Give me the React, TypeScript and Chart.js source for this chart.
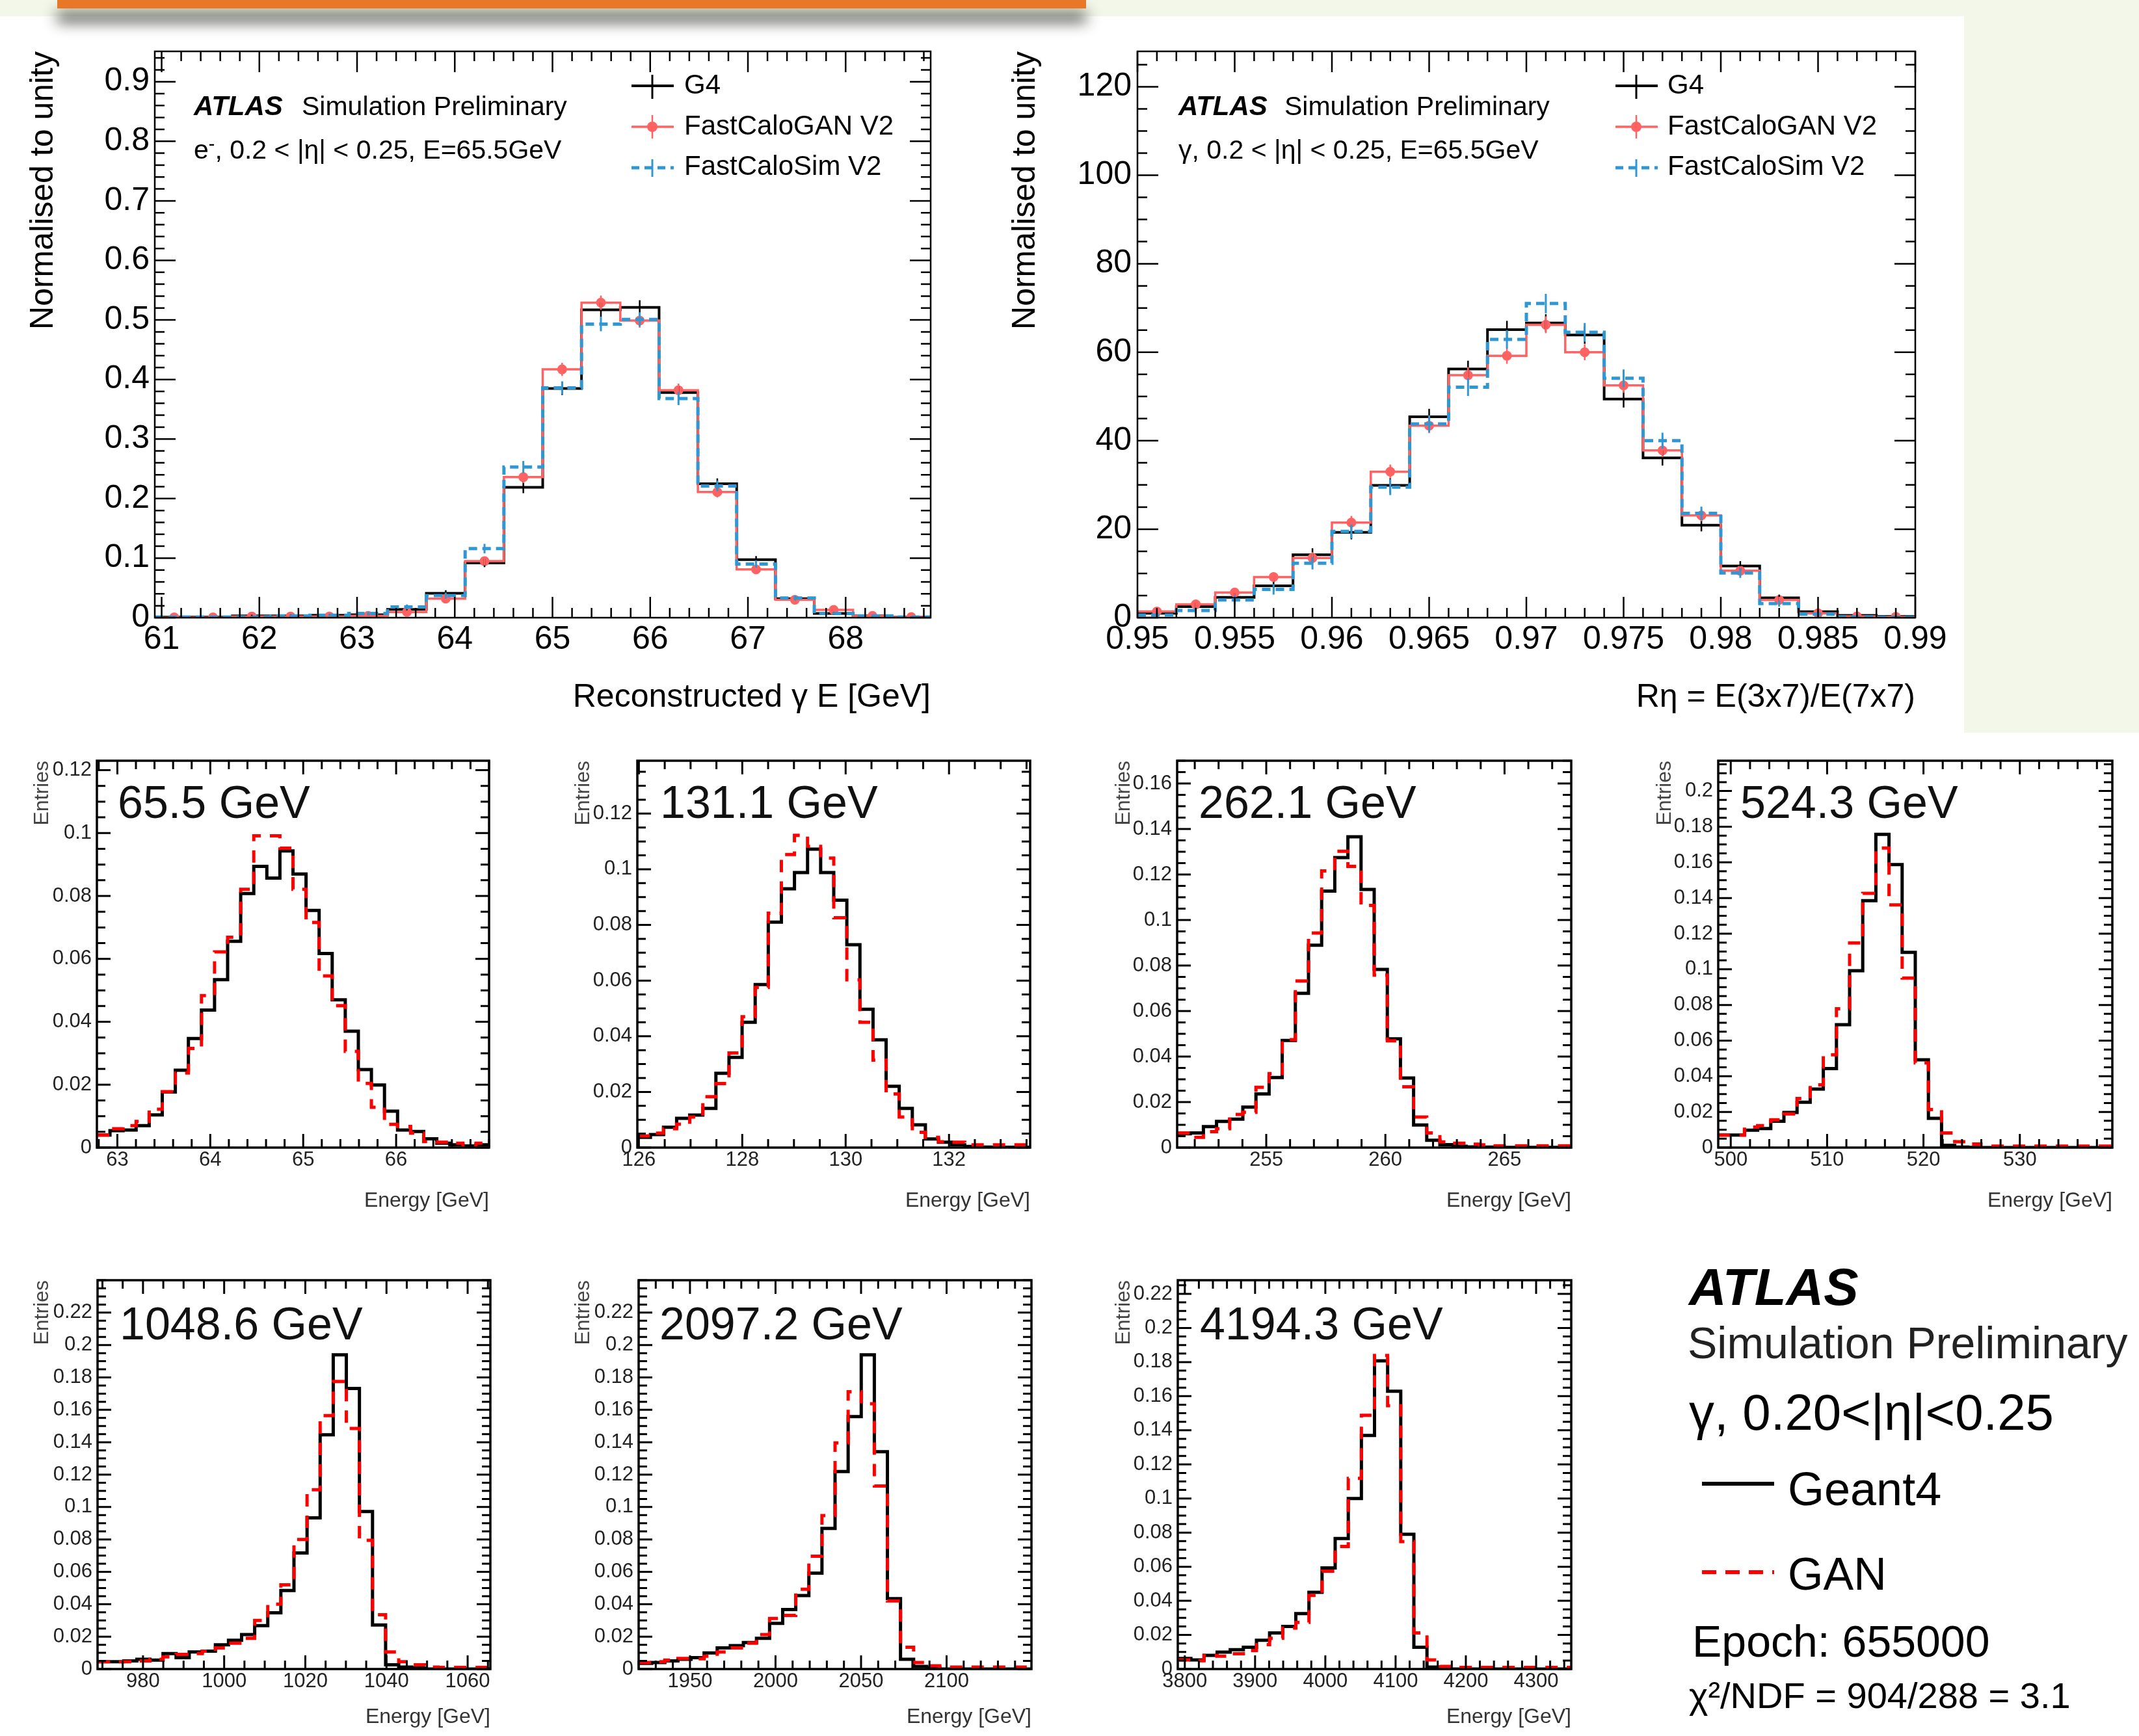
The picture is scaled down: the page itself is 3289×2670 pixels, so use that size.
import React, { useEffect, useRef } from 'react';
import { Chart, registerables } from 'chart.js';

Chart.register(...registerables);

const FONT = '"Liberation Sans", Arial, Helvetica, sans-serif';
const GREEN = '#f3f7e9';
const C_BLACK = '#000000';
const C_GAN_TOP = '#ff6262';
const C_FCS = '#2f98d4';
const C_RED = '#ff0000';

// ---------------- Top-left: reconstructed photon energy (20 bins) ----------------
const eTicksX = [61, 62, 63, 64, 65, 66, 67, 68];
const eTicksY = [0, 0.1, 0.2, 0.3, 0.4, 0.5, 0.6, 0.7, 0.8, 0.9];
const eG4 = [0.001, 0.001, 0.003, 0.003, 0.004, 0.005, 0.014, 0.041, 0.092, 0.219, 0.385, 0.517, 0.521, 0.378, 0.225, 0.0975, 0.032, 0.007, 0.003, 0.001];
const eGAN = [0.0005, 0.0005, 0.002, 0.002, 0.002, 0.003, 0.0095, 0.032, 0.095, 0.236, 0.417, 0.529, 0.499, 0.382, 0.211, 0.081, 0.030, 0.013, 0.003, 0.001];
const eFCS = [0.001, 0.001, 0.001, 0.003, 0.004, 0.007, 0.018, 0.037, 0.116, 0.253, 0.386, 0.493, 0.501, 0.368, 0.221, 0.090, 0.033, 0.007, 0.003, 0.001];
const eG4Err = [0.001, 0.001, 0.002, 0.002, 0.002, 0.002, 0.003, 0.005, 0.007, 0.010, 0.011, 0.012, 0.012, 0.011, 0.009, 0.006, 0.004, 0.002, 0.001, 0.001];
const eGANErr = [0.001, 0.001, 0.001, 0.001, 0.001, 0.002, 0.003, 0.005, 0.007, 0.010, 0.011, 0.012, 0.012, 0.011, 0.009, 0.006, 0.004, 0.003, 0.001, 0.001];
const eFCSErr = [0.001, 0.001, 0.001, 0.002, 0.002, 0.003, 0.004, 0.005, 0.008, 0.010, 0.011, 0.012, 0.012, 0.011, 0.009, 0.006, 0.004, 0.002, 0.001, 0.001];

// ---------------- Top-right: R_eta (20 bins) ----------------
const rTicksX = [0.95, 0.955, 0.96, 0.965, 0.97, 0.975, 0.98, 0.985, 0.99];
const rTicksY = [0, 20, 40, 60, 80, 100, 120];
const rG4 = [1.0, 2.5, 4.6, 7.2, 14.2, 19.3, 29.9, 45.4, 56.2, 65.1, 66.6, 63.9, 49.4, 36.1, 20.9, 11.7, 4.5, 1.35, 0.5, 0.3];
const rGAN = [1.4, 3.0, 5.7, 9.2, 13.5, 21.5, 33.0, 43.4, 54.8, 59.2, 66.2, 60.0, 52.5, 37.8, 23.1, 10.6, 4.0, 1.0, 0.3, 0.2];
const rFCS = [0.6, 1.6, 4.0, 6.4, 12.3, 19.5, 29.5, 43.8, 52.1, 62.9, 71.0, 64.5, 54.1, 40.0, 23.6, 10.1, 3.2, 0.8, 0.2, 0.1];
const rG4Err = [0.5, 0.8, 1.0, 1.2, 1.5, 1.6, 1.7, 1.8, 1.9, 2.0, 2.0, 2.0, 1.9, 1.7, 1.4, 1.1, 0.7, 0.4, 0.2, 0.2];
const rGANErr = [0.5, 0.7, 0.9, 1.1, 1.3, 1.5, 1.6, 1.7, 1.8, 1.8, 1.9, 1.8, 1.7, 1.5, 1.3, 1.0, 0.7, 0.4, 0.2, 0.2];
const rFCSErr = [0.4, 0.7, 1.0, 1.2, 1.4, 1.6, 1.8, 1.9, 2.0, 2.1, 2.2, 2.1, 2.0, 1.8, 1.5, 1.1, 0.7, 0.4, 0.2, 0.2];

// ---------------- Small panels: energy response, Geant4 vs GAN (30 bins each) ----------------
const p1Ticks = [63, 64, 65, 66];
const p1G4 = [0.0040, 0.0054, 0.0056, 0.0070, 0.0104, 0.0177, 0.0246, 0.0347, 0.0437, 0.0534, 0.0656, 0.0808, 0.0894, 0.0857, 0.0943, 0.0870, 0.0754, 0.0617, 0.0470, 0.0370, 0.0248, 0.0199, 0.0116, 0.0056, 0.0051, 0.0028, 0.0014, 0.0009, 0.0005, 0.0009];
const p1GAN = [0.0040, 0.0060, 0.0070, 0.0083, 0.0122, 0.0178, 0.0237, 0.0315, 0.0483, 0.0622, 0.0669, 0.0821, 0.0991, 0.0991, 0.0952, 0.0821, 0.0716, 0.0546, 0.0451, 0.0306, 0.0204, 0.0128, 0.0074, 0.0067, 0.0046, 0.0019, 0.0017, 0.0014, 0.0002, 0.0014];

const p2Ticks = [126, 128, 130, 132];
const p2G4 = [0.0037, 0.0047, 0.0073, 0.0105, 0.0117, 0.0141, 0.0267, 0.0324, 0.0450, 0.0586, 0.0810, 0.0930, 0.0988, 0.1072, 0.0988, 0.0889, 0.0729, 0.0497, 0.0387, 0.0220, 0.0141, 0.0082, 0.0031, 0.0019, 0.0010, 0.0004, 0.0002, 0.0001, 0.0001, 0.0001];
const p2GAN = [0.0042, 0.0052, 0.0068, 0.0084, 0.0110, 0.0183, 0.0230, 0.0340, 0.0470, 0.0575, 0.0842, 0.1053, 0.1122, 0.1082, 0.1040, 0.0826, 0.0603, 0.0450, 0.0314, 0.0193, 0.0110, 0.0055, 0.0037, 0.0021, 0.0019, 0.0010, 0.0010, 0.0010, 0.0010, 0.0010];

const p3Ticks = [255, 260, 265];
const p3G4 = [0.0061, 0.0064, 0.0092, 0.0115, 0.0125, 0.0178, 0.0236, 0.0308, 0.0471, 0.0678, 0.0889, 0.1127, 0.1274, 0.1366, 0.1134, 0.0783, 0.0478, 0.0306, 0.0099, 0.0032, 0.0013, 0.0006, 0.0003, 0.0002, 0.0001, 0.0001, 0.0001, 0.0001, 0.0001, 0.0001];
const p3GAN = [0.0064, 0.0045, 0.0070, 0.0083, 0.0146, 0.0155, 0.0265, 0.0325, 0.0474, 0.0732, 0.0943, 0.1216, 0.1302, 0.1236, 0.1064, 0.0758, 0.0469, 0.0267, 0.0134, 0.0064, 0.0025, 0.0019, 0.0015, 0.0012, 0.0008, 0.0008, 0.0008, 0.0008, 0.0008, 0.0008];

const p4Ticks = [500, 510, 520, 530];
const p4G4 = [0.0070, 0.0070, 0.0098, 0.0107, 0.0148, 0.0197, 0.0254, 0.0328, 0.0443, 0.0689, 0.0992, 0.1385, 0.1757, 0.1587, 0.1095, 0.0492, 0.0164, 0.0013, 0.0003, 0.0001, 0, 0, 0, 0, 0, 0, 0, 0, 0, 0];
const p4GAN = [0.0070, 0.0070, 0.0115, 0.0123, 0.0156, 0.0189, 0.0275, 0.0352, 0.0521, 0.0779, 0.1148, 0.1426, 0.1680, 0.1361, 0.0951, 0.0475, 0.0213, 0.0082, 0.0033, 0.0020, 0.0008, 0.0008, 0.0008, 0.0008, 0.0008, 0.0008, 0.0008, 0.0008, 0.0008, 0.0008];

const p5Ticks = [980, 1000, 1020, 1040, 1060];
const p5G4 = [0.0045, 0.0045, 0.0050, 0.0060, 0.0055, 0.0095, 0.0070, 0.0105, 0.0110, 0.0150, 0.0178, 0.0213, 0.0268, 0.0347, 0.0485, 0.0716, 0.0933, 0.1446, 0.1939, 0.1732, 0.0972, 0.0272, 0.0026, 0.0012, 0.0006, 0, 0, 0, 0, 0];
const p5GAN = [0.0045, 0.0045, 0.0045, 0.0050, 0.0060, 0.0075, 0.0090, 0.0095, 0.0110, 0.0130, 0.0160, 0.0190, 0.0300, 0.0400, 0.0520, 0.0800, 0.1107, 0.1564, 0.1775, 0.1485, 0.0795, 0.0335, 0.0105, 0.0045, 0.0026, 0.0012, 0.0010, 0.0010, 0.0010, 0.0010];

const p6Ticks = [1950, 2000, 2050, 2100];
const p6G4 = [0.0035, 0.0040, 0.0050, 0.0060, 0.0070, 0.0099, 0.0130, 0.0144, 0.0164, 0.0190, 0.0282, 0.0367, 0.0454, 0.0592, 0.0868, 0.1219, 0.1558, 0.1939, 0.1341, 0.0434, 0.0060, 0.0016, 0.0008, 0, 0, 0, 0, 0, 0, 0];
const p6GAN = [0.0040, 0.0045, 0.0055, 0.0065, 0.0063, 0.0079, 0.0105, 0.0130, 0.0160, 0.0213, 0.0312, 0.0331, 0.0493, 0.0696, 0.0947, 0.1396, 0.1712, 0.1637, 0.1130, 0.0420, 0.0134, 0.0040, 0.0020, 0.0012, 0.0012, 0.0012, 0.0012, 0.0012, 0.0012, 0.0012];

const p7Ticks = [3800, 3900, 4000, 4100, 4200, 4300];
const p7G4 = [0.0062, 0.0053, 0.0080, 0.0099, 0.0113, 0.0128, 0.0169, 0.0212, 0.0250, 0.0325, 0.0450, 0.0593, 0.0765, 0.1000, 0.1370, 0.1807, 0.1629, 0.0790, 0.0128, 0.0011, 0, 0, 0, 0, 0, 0, 0, 0, 0, 0];
const p7GAN = [0.0053, 0.0049, 0.0080, 0.0075, 0.0090, 0.0109, 0.0143, 0.0180, 0.0240, 0.0274, 0.0432, 0.0574, 0.0719, 0.1118, 0.1488, 0.1839, 0.1544, 0.0747, 0.0212, 0.0053, 0.0015, 0.0010, 0.0010, 0.0010, 0.0010, 0.0010, 0.0010, 0.0010, 0.0010, 0.0010];

const smallYTicks = [0, 0.02, 0.04, 0.06, 0.08, 0.1, 0.12, 0.14, 0.16, 0.18, 0.2, 0.22];

// ---------------- helpers ----------------
const fmtTrim = (d: number) => (v: number) => (Math.abs(v) < 1e-12 ? '0' : String(Number(v.toFixed(d))));

type Series = {
  label: string;
  values: number[];
  color: string;
  width: number;
  dash?: number[];
  errors?: number[];
  errWidth?: number;
  marker?: number;
  order: number;
};

type Panel = {
  key: string;
  left: number; top: number; width: number; height: number;
  area: [number, number, number, number];
  xMin: number; xMax: number; yMax: number;
  xMajor: number[]; xMinor: number; yMajor: number[]; yMinor: number;
  xFmt: (v: number) => string; yFmt: (v: number) => string;
  tickFont: number; tickColor: string; xTickPad: number; yTickPad: number;
  xTitle: string; xTitleFont: number; xTitlePad: number; xTitleColor: string;
  yTitle: string; yTitleFont: number; yTitlePad: number; yTitleColor: string;
  majorLen: number; minorLen: number; tickWidth: number; frameWidth: number;
  series: Series[];
};

const multiples = (min: number, max: number, step: number) => {
  const out: number[] = [];
  for (let k = Math.ceil(min / step - 1e-7); k * step <= max + 1e-9; k++) out.push(k * step);
  return out;
};

function HistPanel({ p }: { p: Panel }) {
  const ref = useRef<HTMLCanvasElement>(null);
  useEffect(() => {
    const canvas = ref.current;
    if (!canvas) return;
    const [aL, aT, aR, aB] = p.area;
    const datasets: any[] = [];
    p.series.forEach((s) => {
      const n = s.values.length;
      const bw = (p.xMax - p.xMin) / n;
      const pts = s.values.map((v, i) => ({ x: p.xMin + i * bw, y: v }));
      pts.push({ x: p.xMax, y: s.values[n - 1] });
      datasets.push({
        type: 'line', label: s.label, data: pts, stepped: 'before',
        borderColor: s.color, borderWidth: s.width, borderDash: s.dash || [],
        borderJoinStyle: 'miter', borderCapStyle: 'butt',
        pointRadius: 0, pointHitRadius: 0, fill: false, tension: 0, order: s.order,
      });
      if (s.marker) {
        datasets.push({
          type: 'line', label: s.label + ' points',
          data: s.values.map((v, i) => ({ x: p.xMin + (i + 0.5) * bw, y: v })),
          showLine: false, pointRadius: s.marker, pointBackgroundColor: s.color,
          pointBorderWidth: 0, pointBorderColor: s.color, order: s.order - 0.5,
        });
      }
    });

    const framePlugin = {
      id: 'rootFrame',
      afterDatasetsDraw(chart: any) {
        const { ctx, chartArea: a, scales } = chart;
        const xs = scales.x;
        const ys = scales.y;
        ctx.save();
        // error bars
        p.series.forEach((s) => {
          if (!s.errors) return;
          const n = s.values.length;
          const bw = (p.xMax - p.xMin) / n;
          ctx.strokeStyle = s.color;
          ctx.lineWidth = s.errWidth || 2.5;
          ctx.setLineDash([]);
          ctx.beginPath();
          s.values.forEach((v, i) => {
            const e = s.errors![i];
            const px = xs.getPixelForValue(p.xMin + (i + 0.5) * bw);
            ctx.moveTo(px, ys.getPixelForValue(Math.max(0, v - e)));
            ctx.lineTo(px, ys.getPixelForValue(v + e));
          });
          ctx.stroke();
        });
        // inward ticks on all four sides
        ctx.strokeStyle = '#000';
        ctx.lineWidth = p.tickWidth;
        ctx.setLineDash([]);
        ctx.beginPath();
        const xTick = (v: number, len: number) => {
          const px = xs.getPixelForValue(v);
          ctx.moveTo(px, a.bottom); ctx.lineTo(px, a.bottom - len);
          ctx.moveTo(px, a.top); ctx.lineTo(px, a.top + len);
        };
        const yTick = (v: number, len: number) => {
          const py = ys.getPixelForValue(v);
          ctx.moveTo(a.left, py); ctx.lineTo(a.left + len, py);
          ctx.moveTo(a.right, py); ctx.lineTo(a.right - len, py);
        };
        multiples(p.xMin, p.xMax, p.xMinor).forEach((v) => xTick(v, p.minorLen));
        p.xMajor.forEach((v) => xTick(v, p.majorLen));
        multiples(0, p.yMax, p.yMinor).forEach((v) => yTick(v, p.minorLen));
        p.yMajor.filter((v) => v <= p.yMax).forEach((v) => yTick(v, p.majorLen));
        ctx.stroke();
        ctx.lineWidth = p.frameWidth;
        ctx.strokeRect(a.left, a.top, a.right - a.left, a.bottom - a.top);
        ctx.restore();
      },
    };

    const yMajor = p.yMajor.filter((v) => v <= p.yMax);
    const chart = new Chart(canvas, {
      type: 'line',
      data: { datasets },
      options: {
        responsive: false,
        animation: false,
        devicePixelRatio: 1,
        events: [],
        layout: { padding: { left: 0, top: aT, right: p.width - aR, bottom: 0 } },
        plugins: { legend: { display: false }, tooltip: { enabled: false }, title: { display: false } },
        scales: {
          x: {
            type: 'linear', min: p.xMin, max: p.xMax,
            afterBuildTicks: (s: any) => { s.ticks = p.xMajor.map((v) => ({ value: v })); },
            afterFit: (s: any) => { s.height = p.height - aB; },
            grid: { display: false, drawTicks: false },
            border: { display: false },
            ticks: {
              autoSkip: false, maxRotation: 0, minRotation: 0, padding: p.xTickPad,
              font: { family: FONT, size: p.tickFont }, color: p.tickColor,
              callback: (v: any) => p.xFmt(Number(v)),
            },
            title: {
              display: true, text: p.xTitle, align: 'end', color: p.xTitleColor,
              font: { family: FONT, size: p.xTitleFont }, padding: { top: 0, bottom: p.xTitlePad },
            },
          },
          y: {
            type: 'linear', min: 0, max: p.yMax,
            afterBuildTicks: (s: any) => { s.ticks = yMajor.map((v) => ({ value: v })); },
            afterFit: (s: any) => { s.width = aL; },
            grid: { display: false, drawTicks: false },
            border: { display: false },
            ticks: {
              autoSkip: false, padding: p.yTickPad,
              font: { family: FONT, size: p.tickFont }, color: p.tickColor,
              callback: (v: any) => p.yFmt(Number(v)),
            },
            title: {
              display: true, text: p.yTitle, align: 'end', color: p.yTitleColor,
              font: { family: FONT, size: p.yTitleFont }, padding: { top: p.yTitlePad, bottom: 0 },
            },
          },
        },
      } as any,
      plugins: [framePlugin],
    });
    return () => chart.destroy();
  }, [p]);
  return (
    <canvas
      ref={ref}
      width={p.width}
      height={p.height}
      style={{ position: 'absolute', left: p.left, top: p.top, width: p.width, height: p.height }}
    />
  );
}

// ---------------- panel definitions ----------------
const bigCommon = {
  tickFont: 50, tickColor: '#000', xTickPad: 4,
  xTitleFont: 50, xTitlePad: 22, xTitleColor: '#000',
  yTitle: 'Normalised to unity', yTitleFont: 50, yTitleColor: '#000',
  majorLen: 32, minorLen: 15, tickWidth: 2.5, frameWidth: 2.5,
};

const topSeries = (g4: number[], gan: number[], fcs: number[], g4e: number[], gane: number[], fcse: number[]): Series[] => [
  { label: 'G4', values: g4, color: C_BLACK, width: 4, errors: g4e, errWidth: 2.5, order: 3 },
  { label: 'FastCaloGAN V2', values: gan, color: C_GAN_TOP, width: 3.5, errors: gane, errWidth: 2.5, marker: 7.5, order: 2 },
  { label: 'FastCaloSim V2', values: fcs, color: C_FCS, width: 5, dash: [13, 8], errors: fcse, errWidth: 3, order: 1 },
];

const panelA: Panel = {
  ...bigCommon,
  key: 'A', left: 0, top: 25, width: 1500, height: 1100, area: [238, 54, 1431, 925],
  xMin: 60.93, xMax: 68.87, yMax: 0.951,
  xMajor: eTicksX, xMinor: 0.2, yMajor: eTicksY, yMinor: 0.02,
  xFmt: fmtTrim(0), yFmt: fmtTrim(1), yTickPad: 8,
  xTitle: 'Reconstructed γ E [GeV]', yTitlePad: 37,
  series: topSeries(eG4, eGAN, eFCS, eG4Err, eGANErr, eFCSErr),
};

const panelB: Panel = {
  ...bigCommon,
  key: 'B', left: 1500, top: 25, width: 1520, height: 1100, area: [249, 54, 1445, 925],
  xMin: 0.95, xMax: 0.99, yMax: 128,
  xMajor: rTicksX, xMinor: 0.001, yMajor: rTicksY, yMinor: 5,
  xFmt: fmtTrim(3), yFmt: fmtTrim(0), yTickPad: 9,
  xTitle: 'Rη = E(3x7)/E(7x7)', yTitlePad: 47,
  series: topSeries(rG4, rGAN, rFCS, rG4Err, rGANErr, rFCSErr),
};

const smallSeries = (g4: number[], gan: number[]): Series[] => [
  { label: 'Geant4', values: g4, color: C_BLACK, width: 5, order: 2 },
  { label: 'GAN', values: gan, color: C_RED, width: 5, dash: [19, 14], order: 1 },
];

const smallCommon = {
  yMajor: smallYTicks, yMinor: 0.005, yFmt: fmtTrim(2), xFmt: fmtTrim(0),
  tickFont: 31, tickColor: '#222', xTickPad: 1, yTickPad: 8,
  xTitle: 'Energy [GeV]', xTitleFont: 32, xTitleColor: '#333',
  yTitle: 'Entries', yTitleFont: 32, yTitlePad: 46, yTitleColor: '#444',
  majorLen: 21, minorLen: 13, tickWidth: 3, frameWidth: 3.5,
  width: 780,
};
const row1 = { top: 1125, height: 760, xTitlePad: 19 };
const row2 = { top: 1905, height: 765, xTitlePad: 10 };

const smallPanels: Panel[] = [
  { ...smallCommon, ...row1, key: 'p1', left: 0, area: [149, 45, 752, 640], xMin: 62.78, xMax: 67.0, yMax: 0.123, xMajor: p1Ticks, xMinor: 0.2, series: smallSeries(p1G4, p1GAN) },
  { ...smallCommon, ...row1, key: 'p2', left: 832, area: [148, 45, 752, 640], xMin: 125.97, xMax: 133.57, yMax: 0.139, xMajor: p2Ticks, xMinor: 0.5, series: smallSeries(p2G4, p2GAN) },
  { ...smallCommon, ...row1, key: 'p3', left: 1663, area: [147, 45, 753, 640], xMin: 251.26, xMax: 267.8, yMax: 0.17, xMajor: p3Ticks, xMinor: 1, series: smallSeries(p3G4, p3GAN) },
  { ...smallCommon, ...row1, key: 'p4', left: 2495, area: [147, 45, 753, 640], xMin: 498.7, xMax: 539.6, yMax: 0.217, xMajor: p4Ticks, xMinor: 2, series: smallSeries(p4G4, p4GAN) },
  { ...smallCommon, ...row2, key: 'p5', left: 0, area: [150, 64, 754, 662], xMin: 968.8, xMax: 1065.6, yMax: 0.240, xMajor: p5Ticks, xMinor: 5, series: smallSeries(p5G4, p5GAN) },
  { ...smallCommon, ...row2, key: 'p6', left: 832, area: [150, 64, 754, 662], xMin: 1920, xMax: 2149.6, yMax: 0.240, xMajor: p6Ticks, xMinor: 10, series: smallSeries(p6G4, p6GAN) },
  { ...smallCommon, ...row2, key: 'p7', left: 1663, area: [148, 64, 753, 662], xMin: 3790, xMax: 4350, yMax: 0.228, xMajor: p7Ticks, xMinor: 20, series: smallSeries(p7G4, p7GAN) },
];

const panels: Panel[] = [panelA, panelB, ...smallPanels];

// ---------------- HTML text helper (positioned by baseline) ----------------
function Txt(props: { x: number; y: number; size: number; children: React.ReactNode; bold?: boolean; italic?: boolean; color?: string }) {
  const { x, y, size, children, bold, italic, color } = props;
  return (
    <div
      style={{
        position: 'absolute', left: x, top: y - 0.8465 * size, fontSize: size, lineHeight: `${size}px`,
        fontFamily: FONT, fontWeight: bold ? 700 : 400, fontStyle: italic ? 'italic' : 'normal',
        color: color || '#000', whiteSpace: 'nowrap',
      }}
    >
      {children}
    </div>
  );
}

function TopLegend({ x0 }: { x0: number }) {
  const cx = x0 + 32;
  return (
    <g>
      <line x1={x0} y1={132} x2={x0 + 65} y2={132} stroke={C_BLACK} strokeWidth={4} />
      <line x1={cx} y1={115} x2={cx} y2={152} stroke={C_BLACK} strokeWidth={3} />
      <line x1={x0} y1={195} x2={x0 + 65} y2={195} stroke={C_GAN_TOP} strokeWidth={3.5} />
      <line x1={cx} y1={177} x2={cx} y2={213} stroke={C_GAN_TOP} strokeWidth={2.5} />
      <circle cx={cx} cy={195} r={8} fill={C_GAN_TOP} />
      <line x1={x0} y1={258} x2={x0 + 65} y2={258} stroke={C_FCS} strokeWidth={5} strokeDasharray="12 8" />
      <line x1={cx} y1={245} x2={cx} y2={272} stroke={C_FCS} strokeWidth={3} />
    </g>
  );
}

export default function App() {
  useEffect(() => {
    document.body.style.margin = '0';
  }, []);
  const sup = { position: 'relative' as const, top: '-0.45em', fontSize: '0.7em' };
  return (
    <div style={{ position: 'absolute', left: 0, top: 0, width: 3289, height: 2670, background: '#ffffff', overflow: 'hidden' }}>
      <div style={{ position: 'absolute', left: 0, top: 0, width: 3289, height: 25, background: GREEN }} />
      <div style={{ position: 'absolute', left: 3020, top: 0, width: 269, height: 1127, background: GREEN }} />
      <div
        style={{
          position: 'absolute', left: 88, top: 0, width: 1582, height: 13, background: '#e97728',
          boxShadow: '0 20px 22px 0 rgba(25,30,20,0.9)',
        }}
      />

      {panels.map((p) => (
        <HistPanel key={p.key} p={p} />
      ))}

      <svg width={3289} height={2670} style={{ position: 'absolute', left: 0, top: 0, pointerEvents: 'none' }}>
        <TopLegend x0={971} />
        <TopLegend x0={2484} />
        <line x1={2617} y1={2282} x2={2728} y2={2282} stroke={C_BLACK} strokeWidth={6} />
        <line x1={2617} y1={2418} x2={2728} y2={2418} stroke={C_RED} strokeWidth={6} strokeDasharray="22 14" />
      </svg>

      {/* top-left annotations */}
      <Txt x={298} y={178} size={42} bold italic>ATLAS</Txt>
      <Txt x={464} y={178} size={41}>Simulation Preliminary</Txt>
      <Txt x={298} y={245} size={41}>e<span style={sup}>-</span>, 0.2 &lt; |η| &lt; 0.25, E=65.5GeV</Txt>
      <Txt x={1052} y={145} size={42}>G4</Txt>
      <Txt x={1052} y={208} size={42}>FastCaloGAN V2</Txt>
      <Txt x={1052} y={270} size={42}>FastCaloSim V2</Txt>

      {/* top-right annotations */}
      <Txt x={1812} y={178} size={42} bold italic>ATLAS</Txt>
      <Txt x={1975} y={178} size={41}>Simulation Preliminary</Txt>
      <Txt x={1812} y={245} size={41}>γ, 0.2 &lt; |η| &lt; 0.25, E=65.5GeV</Txt>
      <Txt x={2564} y={145} size={42}>G4</Txt>
      <Txt x={2564} y={208} size={42}>FastCaloGAN V2</Txt>
      <Txt x={2564} y={270} size={42}>FastCaloSim V2</Txt>

      {/* small panel energy labels */}
      <Txt x={181} y={1258} size={70} color="#111">65.5 GeV</Txt>
      <Txt x={1015} y={1258} size={70} color="#111">131.1 GeV</Txt>
      <Txt x={1843} y={1258} size={70} color="#111">262.1 GeV</Txt>
      <Txt x={2676} y={1258} size={70} color="#111">524.3 GeV</Txt>
      <Txt x={184} y={2060} size={70} color="#111">1048.6 GeV</Txt>
      <Txt x={1014} y={2060} size={70} color="#111">2097.2 GeV</Txt>
      <Txt x={1845} y={2060} size={70} color="#111">4194.3 GeV</Txt>

      {/* bottom-right legend block */}
      <Txt x={2597} y={2008} size={80} bold italic>ATLAS</Txt>
      <Txt x={2595} y={2089} size={68} color="#222">Simulation Preliminary</Txt>
      <Txt x={2597} y={2199} size={78}>γ, 0.20&lt;|η|&lt;0.25</Txt>
      <Txt x={2749} y={2315} size={72}>Geant4</Txt>
      <Txt x={2749} y={2445} size={70}>GAN</Txt>
      <Txt x={2602} y={2548} size={68}>Epoch: 655000</Txt>
      <Txt x={2597} y={2627} size={56}>χ²/NDF = 904/288 = 3.1</Txt>
    </div>
  );
}
